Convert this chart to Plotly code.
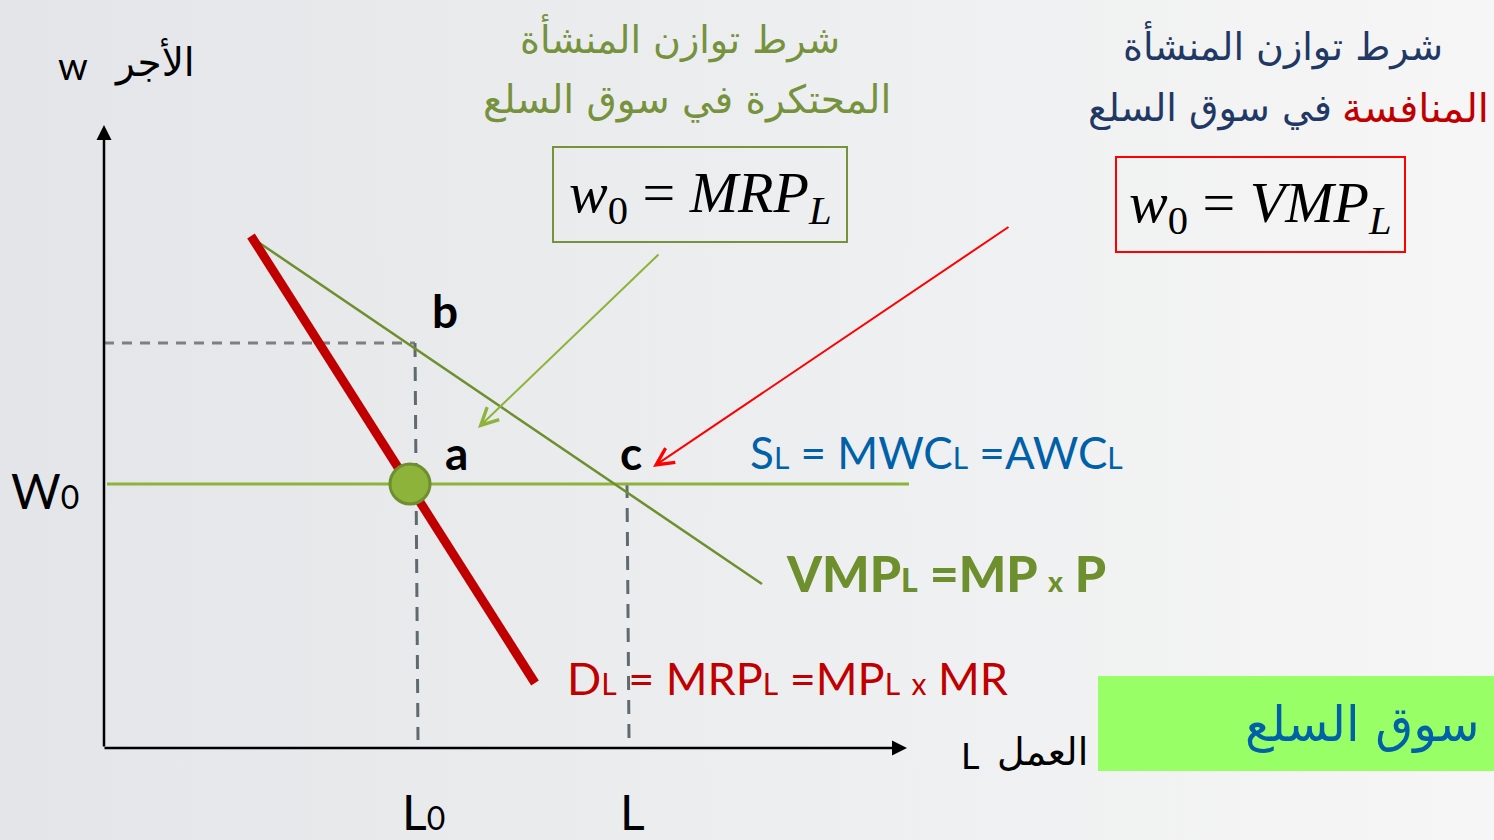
import plotly.graph_objects as go

# ---- diagram data (units: L along x, w along y, origin at the axes corner) ----
demand_L = [147, 431]          # D_L = MRP_L (red, thick)
demand_w = [512, 65]
vmp_L = [154, 658]             # VMP_L = MP x P (olive)
vmp_w = [506, 164]
supply_L = [3, 805]            # S_L = MWC_L = AWC_L (light green)
supply_w = [264, 264]
w0 = 264
w_b = 405
L0 = 311
L1 = 523
point_a = (306, 264)
axis_len_L = 803
axis_len_w = 623

XR = [-104, 1390]
YR = [-92, 748]

fig = go.Figure()

# background gradient
fig.add_trace(go.Scatter(x=[XR[0], XR[1], XR[1], XR[0], XR[0]],
                         y=[YR[0], YR[0], YR[1], YR[1], YR[0]],
                         mode="lines", line=dict(width=0), fill="toself",
                         fillgradient=dict(type="horizontal",
                                           colorscale=[[0, "#E3E5E8"], [1, "#F6F6F6"]]),
                         hoverinfo="skip", showlegend=False))

# dashed guides
fig.add_trace(go.Scatter(x=[0, L0], y=[w_b, w_b], mode="lines",
                         line=dict(color="#7F7F7F", width=3, dash="10px,8px"),
                         showlegend=False, hoverinfo="skip"))
fig.add_trace(go.Scatter(x=[L0, L0 + 3], y=[w_b, 8], mode="lines",
                         line=dict(color="#5F6A70", width=3, dash="14px,10px"),
                         showlegend=False, hoverinfo="skip"))
fig.add_trace(go.Scatter(x=[L1, L1 + 2], y=[w0, 8], mode="lines",
                         line=dict(color="#5F6A70", width=3, dash="14px,10px"),
                         showlegend=False, hoverinfo="skip"))

# supply line
fig.add_trace(go.Scatter(x=supply_L, y=supply_w, mode="lines",
                         line=dict(color="#8DB33A", width=3),
                         showlegend=False, hoverinfo="skip"))
# VMP line
fig.add_trace(go.Scatter(x=vmp_L, y=vmp_w, mode="lines",
                         line=dict(color="#6E8F2E", width=2.5),
                         showlegend=False, hoverinfo="skip"))
# demand line
fig.add_trace(go.Scatter(x=demand_L, y=demand_w, mode="lines",
                         line=dict(color="#C00000", width=9),
                         showlegend=False, hoverinfo="skip"))
# point a
fig.add_trace(go.Scatter(x=[point_a[0]], y=[point_a[1]], mode="markers",
                         marker=dict(size=40, color="#8DB33A",
                                     line=dict(color="#6E8F2E", width=3)),
                         showlegend=False, hoverinfo="skip"))

# axes (lines with arrowheads)
ann = []
ann.append(dict(x=0, y=axis_len_w, ax=0, ay=0, xref="x", yref="y", axref="x", ayref="y",
                showarrow=True, arrowhead=2, arrowsize=1.2, arrowwidth=2.5, arrowcolor="#000000", text=""))
ann.append(dict(x=axis_len_L, y=0, ax=-1, ay=0, xref="x", yref="y", axref="x", ayref="y",
                showarrow=True, arrowhead=2, arrowsize=1.2, arrowwidth=2.5, arrowcolor="#000000", text=""))
# pointer arrows
ann.append(dict(x=374, y=320, ax=556, ay=495, xref="x", yref="y", axref="x", ayref="y",
                showarrow=True, arrowhead=5, arrowsize=1.7, arrowwidth=2, arrowcolor="#8DB33A", text=""))
ann.append(dict(x=549, y=281, ax=906, ay=522, xref="x", yref="y", axref="x", ayref="y",
                showarrow=True, arrowhead=5, arrowsize=1.7, arrowwidth=2, arrowcolor="#FF0000", text=""))


def txt(x, y, text, size, color, family="Lato", xanchor="center", yanchor="middle", weight=None):
    f = dict(size=size, color=color, family=family)
    if weight is not None:
        f["weight"] = weight
    ann.append(dict(x=x, y=y, xref="x", yref="y", text=text, showarrow=False,
                    font=f, xanchor=xanchor, yanchor=yanchor))


ar = "DejaVu Sans"
# point labels
txt(341, 438, "<b>b</b>", 46, "#000000")
txt(352, 296, "<b>a</b>", 46, "#000000")
txt(527, 296, "<b>c</b>", 46, "#000000")
txt(-59, 258, "W<span style='font-size:32px'>0</span>", 48, "#000000")
txt(319, -63, "L<span style='font-size:32px'>0</span>", 48, "#000000")
txt(528, -63, "L", 48, "#000000")

# axis titles
txt(-31, 683, "w", 38, "#000000")
txt(50, 686, "الأجر", 39, "#000000", family=ar)
txt(866, -7, "L", 36, "#000000")
txt(938, -4, "العمل", 38, "#000000", family=ar)

# curve labels
txt(644, 296, "S<span style='font-size:30px'>L</span> = MWC<span style='font-size:30px'>L</span> =AWC<span style='font-size:30px'>L</span>",
    44, "#0060A8", xanchor="left")
txt(680, 175, "VMP<span style='font-size:32px'>L</span> =MP <span style='font-size:28px'>x</span> P",
    50, "#6E8F2E", xanchor="left", weight=900)
txt(461, 70, "D<span style='font-size:30px'>L</span> = MRP<span style='font-size:30px'>L</span> =MP<span style='font-size:30px'>L</span> <span style='font-size:30px'>x</span> MR",
    45, "#C00000", xanchor="left")

# green (monopoly) title
txt(576, 710, "شرط توازن المنشأة", 38, "#76923C", family=ar)
txt(583, 648, "المحتكرة في سوق السلع", 39, "#76923C", family=ar)
# blue (competition) title
txt(1179, 703, "شرط توازن المنشأة", 38, "#1F3864", family=ar)
txt(1106, 640, "في سوق السلع", 38, "#1F3864", family=ar)
txt(1236, 640, "المنافسة", 40, "#C00000", family=ar, xanchor="left")

# equation boxes
fig.add_shape(type="rect", x0=449, x1=743, y0=506, y1=601, xref="x", yref="y",
              line=dict(color="#76923C", width=2))
txt(596, 552, "<i>w</i><sub>0</sub> = <i>MRP<sub>L</sub></i>", 58,
    "#000000", family="Liberation Serif")
fig.add_shape(type="rect", x0=1012, x1=1301, y0=496, y1=591, xref="x", yref="y",
              line=dict(color="#FF0000", width=2))
txt(1156, 542, "<i>w</i><sub>0</sub> = <i>VMP<sub>L</sub></i>", 58,
    "#000000", family="Liberation Serif")

# bottom-right green banner
fig.add_shape(type="rect", x0=994, x1=1400, y0=-23, y1=72, xref="x", yref="y",
              line=dict(width=0), fillcolor="#99FF66")
txt(1139, 24, "في سوق السلع", 49, "#0060A8", family=ar, xanchor="left")

fig.update_layout(
    width=1494, height=840,
    margin=dict(l=0, r=0, t=0, b=0),
    paper_bgcolor="#EDEEEF", plot_bgcolor="#EDEEEF",
    xaxis=dict(range=XR, visible=False, fixedrange=True),
    yaxis=dict(range=YR, visible=False, fixedrange=True),
    annotations=ann,
    showlegend=False,
)

fig.write_html("out.html", config={"displayModeBar": False},
               post_script="document.body.style.margin='0px';")
